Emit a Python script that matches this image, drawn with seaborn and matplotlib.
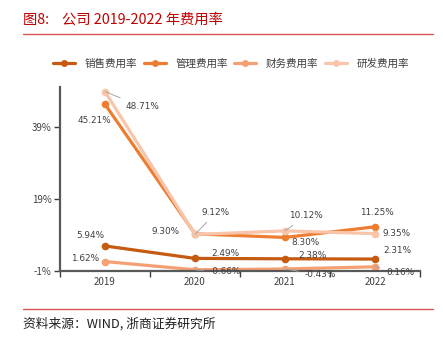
import matplotlib
matplotlib.use("Agg")
import matplotlib.pyplot as plt
import seaborn as sns
import pandas as pd
import numpy as np

years = ["2019", "2020", "2021", "2022"]
series_names = ["销售费用率", "管理费用率", "财务费用率", "研发费用率"]
sales = [5.94, 2.49, 2.38, 2.31]
admin = [45.21, 9.30, 8.30, 11.25]
finance = [1.62, -0.66, -0.43, 0.16]
rnd = [48.71, 9.12, 10.12, 9.35]
yticks = [-1, 19, 39]
ytick_labels = ["-1%", "19%", "39%"]

colors = ["#C55A11", "#ED7D31", "#F4A073", "#F8C5AA"]

sns.set_theme(style="white")
plt.rcParams['font.family'] = ['Noto Sans CJK SC', 'DejaVu Sans']

values = [sales, admin, finance, rnd]
rows = []
for name, vals in zip(series_names, values):
    for i, v in enumerate(vals):
        rows.append({"idx": i, "year": years[i], "value": v, "series": name})
df = pd.DataFrame(rows)

fig = plt.figure(figsize=(4.43, 3.42), dpi=100)
ax = fig.add_axes([60/443, 1 - 271/342, 360/443, 184/342])

sns.lineplot(data=df, x="idx", y="value", hue="series", hue_order=series_names,
             palette=colors, marker="o", markersize=5.5, markeredgewidth=0,
             linewidth=2.3, ax=ax, legend=False)

ax.set_xlim(-0.5, 3.5)
ax.set_ylim(-1, 50)
ax.set_yticks(yticks)
ax.set_yticklabels(ytick_labels)
ax.set_xticks([0, 1, 2, 3])
ax.set_xticklabels(years)
ax.set_xticks([-0.5, 0.5, 1.5, 2.5, 3.5], minor=True)
ax.tick_params(axis="x", which="major", length=0, labelsize=7, colors="#404040", pad=4)
ax.tick_params(axis="x", which="minor", length=4, width=1, color="#404040", direction="out", bottom=True)
ax.tick_params(axis="y", length=4, width=1, color="#404040", direction="out", left=True,
               labelsize=7, labelcolor="#404040", pad=2)
ax.set_xlabel("")
ax.set_ylabel("")
for s in ["top", "right"]:
    ax.spines[s].set_visible(False)
for s in ["left", "bottom"]:
    ax.spines[s].set_color("#595959")
    ax.spines[s].set_linewidth(1.6)

# data labels: (dx, dy) offsets in pixels, leader flag
offsets = {
    0: [(-15, 10, False), (30, 5, False), (27, 3, False), (22, 9, False)],
    1: [(-11, -16, False), (-29, 2, False), (21, -5, False), (2, 14, False)],
    2: [(-20, 3, False), (30, -2, True), (35, -6, True), (25, -6, True)],
    3: [(37, -15, True), (21, 22, True), (21, 15, True), (22, 0, False)],
}
for si, vals in enumerate(values):
    for i, v in enumerate(vals):
        dx, dy, lead = offsets[si][i]
        kw = {}
        if lead:
            kw["arrowprops"] = dict(arrowstyle="-", color="#A6A6A6", lw=0.7,
                                    shrinkA=2, shrinkB=0)
        ax.annotate(f"{v:.2f}%", xy=(i, v), xytext=(dx, dy),
                    textcoords="offset pixels", ha="center", va="center",
                    fontsize=6.4, color="#404040", family="DejaVu Sans", **kw)

# legend
from matplotlib.lines import Line2D
handles = [Line2D([0], [0], color=c, lw=2.3, marker="o", markersize=5, markeredgewidth=0)
           for c in colors]
fig.legend(handles, series_names, loc="center", bbox_to_anchor=(231/443, 1 - 64/342),
           ncol=4, frameon=False, fontsize=7.6, handlelength=2.1, columnspacing=0.6,
           handletextpad=0.9, labelcolor="#404040")

fig.text(23/443, 1 - 20/342, "图8:    公司 2019-2022 年费用率", fontsize=10.3,
         color="#C00000", va="center", ha="left")
fig.add_artist(Line2D([23/443, 433/443], [1 - 34/342, 1 - 34/342], color="#D9534F", lw=1))
fig.add_artist(Line2D([23/443, 433/443], [1 - 309/342, 1 - 309/342], color="#D9534F", lw=1))
fig.text(23/443, 1 - 324/342, "资料来源：WIND, 浙商证券研究所", fontsize=9.2,
         color="#202020", va="center", ha="left")

fig.savefig("out.png", dpi=100)
